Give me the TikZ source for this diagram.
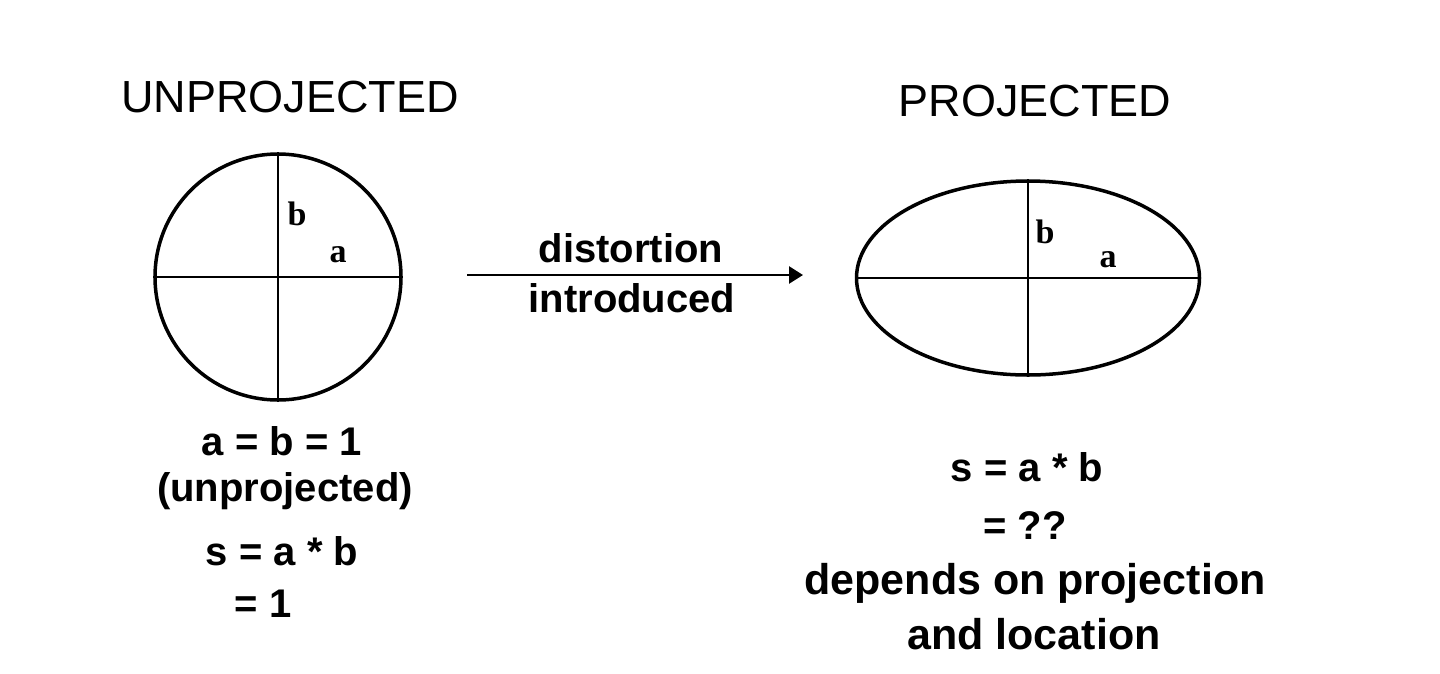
\documentclass[tikz,border=0pt]{standalone}
\usepackage{fontspec}
\setmainfont{Liberation Sans}
\newfontfamily\axisfont{Liberation Serif}
\usetikzlibrary{arrows.meta,positioning,shapes.geometric}

\begin{document}
\begin{tikzpicture}[
  x=1pt,y=-1pt,
  title/.style={font=\fontsize{45}{54}\selectfont,inner sep=0pt},
  formula/.style={font=\fontsize{40}{48}\selectfont\bfseries,inner sep=0pt},
  bigformula/.style={font=\fontsize{43}{52}\selectfont\bfseries,inner sep=0pt},
  axislbl/.style={font=\fontsize{34}{40}\selectfont\axisfont\bfseries,inner sep=0pt},
  outline/.style={draw,line width=3.5pt,inner sep=0pt},
  axis/.style={line width=2pt},
  arr/.style={-{Triangle[length=14pt,width=17pt]},line width=2.5pt}
]
\useasboundingbox (0,0) rectangle (1440,673);

\node[title] (unprojT) at (290,97) {UNPROJECTED};
\node[title] (projT) at (1035,101) {PROJECTED};

\node[outline,circle,minimum size=246pt] (circ) at (278,277) {};
\draw[axis] (circ.north) -- (circ.south);
\draw[axis] (circ.west) -- (circ.east);
\node[axislbl] (cb) at (297,214) {b};
\node[axislbl] (ca) at (338,255) {a};

\node[outline,ellipse,minimum width=343pt,minimum height=194pt] (ell) at (1028,278) {};
\draw[axis] (ell.north) -- (ell.south);
\draw[axis] (ell.west) -- (ell.east);
\node[axislbl] (eb) at (1045,232) {b};
\node[axislbl] (ea) at (1108,260) {a};

\coordinate (arrS) at (467,275);
\coordinate (arrE) at (803,275);
\draw[arr] (arrS) -- (arrE);
\node[formula] (dist) at (631,248) {distortion};
\node[formula] (intro) at (632,298) {introduced};

\node[formula] (l1) at (282,441) {a = b = 1};
\node[formula] (l2) at (285,491) {(unprojected)};
\node[formula] (l3) at (282,551) {s = a * b};
\node[formula] (l4) at (263,604) {= 1};

\node[formula] (r1) at (1027,467) {s = a * b};
\node[formula] (r2) at (1025,526) {= ??};
\node[bigformula] (r3) at (1035,583) {depends on projection};
\node[bigformula] (r4) at (1034,634) {and location};
\end{tikzpicture}
\end{document}
